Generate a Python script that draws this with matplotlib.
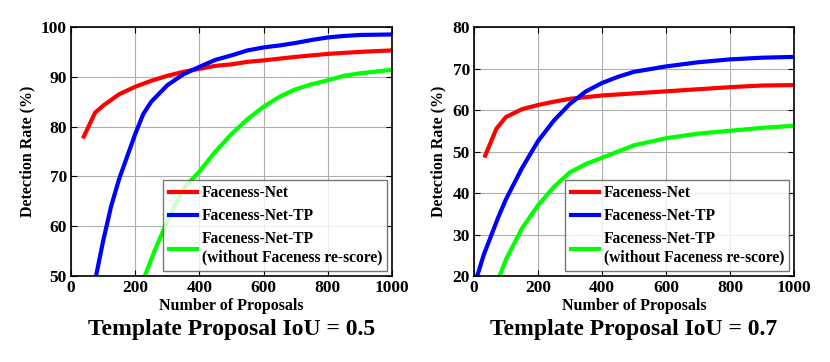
import matplotlib
matplotlib.use('Agg')
import matplotlib.pyplot as plt

plt.rcParams['font.family'] = ['Liberation Serif', 'DejaVu Serif']
plt.rcParams['font.weight'] = 'bold'

# IoU = 0.5
x05_red = [40, 75, 100, 150, 200, 250, 300, 350, 400, 450, 500, 550, 600, 700, 800, 900, 1000]
y05_red = [78, 82.8, 84.2, 86.5, 88, 89.2, 90.2, 91, 91.6, 92.2, 92.5, 93, 93.3, 94, 94.6, 95, 95.3]
x05_blue = [78, 100, 125, 150, 175, 200, 225, 250, 300, 350, 400, 450, 500, 550, 600, 650, 700, 750, 800, 850, 900, 1000]
y05_blue = [50, 57, 64, 69.5, 74, 78.5, 82.5, 85, 88.3, 90.5, 92, 93.4, 94.3, 95.3, 95.9, 96.3, 96.8, 97.4, 97.9, 98.2, 98.4, 98.5]
x05_green = [230, 260, 300, 350, 400, 450, 500, 550, 600, 650, 700, 750, 800, 850, 900, 1000]
y05_green = [50, 55, 61, 67.5, 71, 75, 78.5, 81.5, 84, 86, 87.5, 88.5, 89.3, 90.2, 90.7, 91.4]

# IoU = 0.7
x07_red = [35, 70, 100, 150, 200, 250, 300, 400, 500, 600, 700, 800, 900, 1000]
y07_red = [49, 55.5, 58.3, 60.2, 61.2, 62, 62.7, 63.5, 64, 64.5, 65, 65.5, 65.9, 66]
x07_blue = [10, 30, 50, 75, 100, 150, 200, 250, 300, 350, 400, 450, 500, 600, 700, 800, 900, 1000]
y07_blue = [20, 25, 29, 34, 38.5, 46, 52.5, 57.5, 61.5, 64.5, 66.5, 68, 69.2, 70.5, 71.5, 72.2, 72.6, 72.8]
x07_green = [80, 100, 150, 200, 250, 300, 350, 400, 500, 600, 700, 800, 900, 1000]
y07_green = [20, 24, 31.5, 37, 41.5, 45, 47, 48.5, 51.5, 53.2, 54.3, 55, 55.7, 56.2]

labels = ['Faceness-Net', 'Faceness-Net-TP', 'Faceness-Net-TP\n(without Faceness re-score)']
colors = ['#ff0000', '#0000ff', '#00ff00']
titles = ['Template Proposal IoU = 0.5', 'Template Proposal IoU = 0.7']

fig = plt.figure(figsize=(8.3, 3.62), dpi=100)
ax1 = fig.add_axes([71/830, 1 - 276/362, 321/830, 249/362])
ax2 = fig.add_axes([474/830, 1 - 276/362, 320/830, 249/362])

panels = [
    (ax1, [(x05_red, y05_red), (x05_blue, y05_blue), (x05_green, y05_green)], (50, 100), range(50, 101, 10)),
    (ax2, [(x07_red, y07_red), (x07_blue, y07_blue), (x07_green, y07_green)], (20, 80), range(20, 81, 10)),
]

for i, (ax, series, ylim, yticks) in enumerate(panels):
    for (xs, ys), c, lab in zip(series, colors, labels):
        ax.plot(xs, ys, color=c, lw=3, label=lab)
    ax.set_xlim(0, 1000)
    ax.set_ylim(*ylim)
    ax.set_xticks(range(0, 1001, 200))
    ax.set_yticks(list(yticks))
    ax.grid(True, color='#b0b0b0', lw=0.8)
    ax.tick_params(direction='in', top=True, right=True, labelsize=12.5, length=4, pad=3)
    for s in ax.spines.values():
        s.set_linewidth(1.2)
    ax.set_xlabel('Number of Proposals', fontsize=11.5, fontweight='bold', labelpad=1)
    ax.set_ylabel('Detection Rate (%)', fontsize=11.5, fontweight='bold', labelpad=4)
    leg = ax.legend(loc='lower right', fontsize=11.2, frameon=True, fancybox=False,
                    edgecolor='#555555', handlelength=1.8, borderpad=0.35,
                    labelspacing=0.45, borderaxespad=0.3, handletextpad=0.3)
    leg.get_frame().set_linewidth(1.0)
    ax.text(0.5, -0.215, titles[i], transform=ax.transAxes, ha='center', va='center',
            fontsize=17, fontweight='bold')

fig.savefig('out.png', dpi=100, facecolor='white')
